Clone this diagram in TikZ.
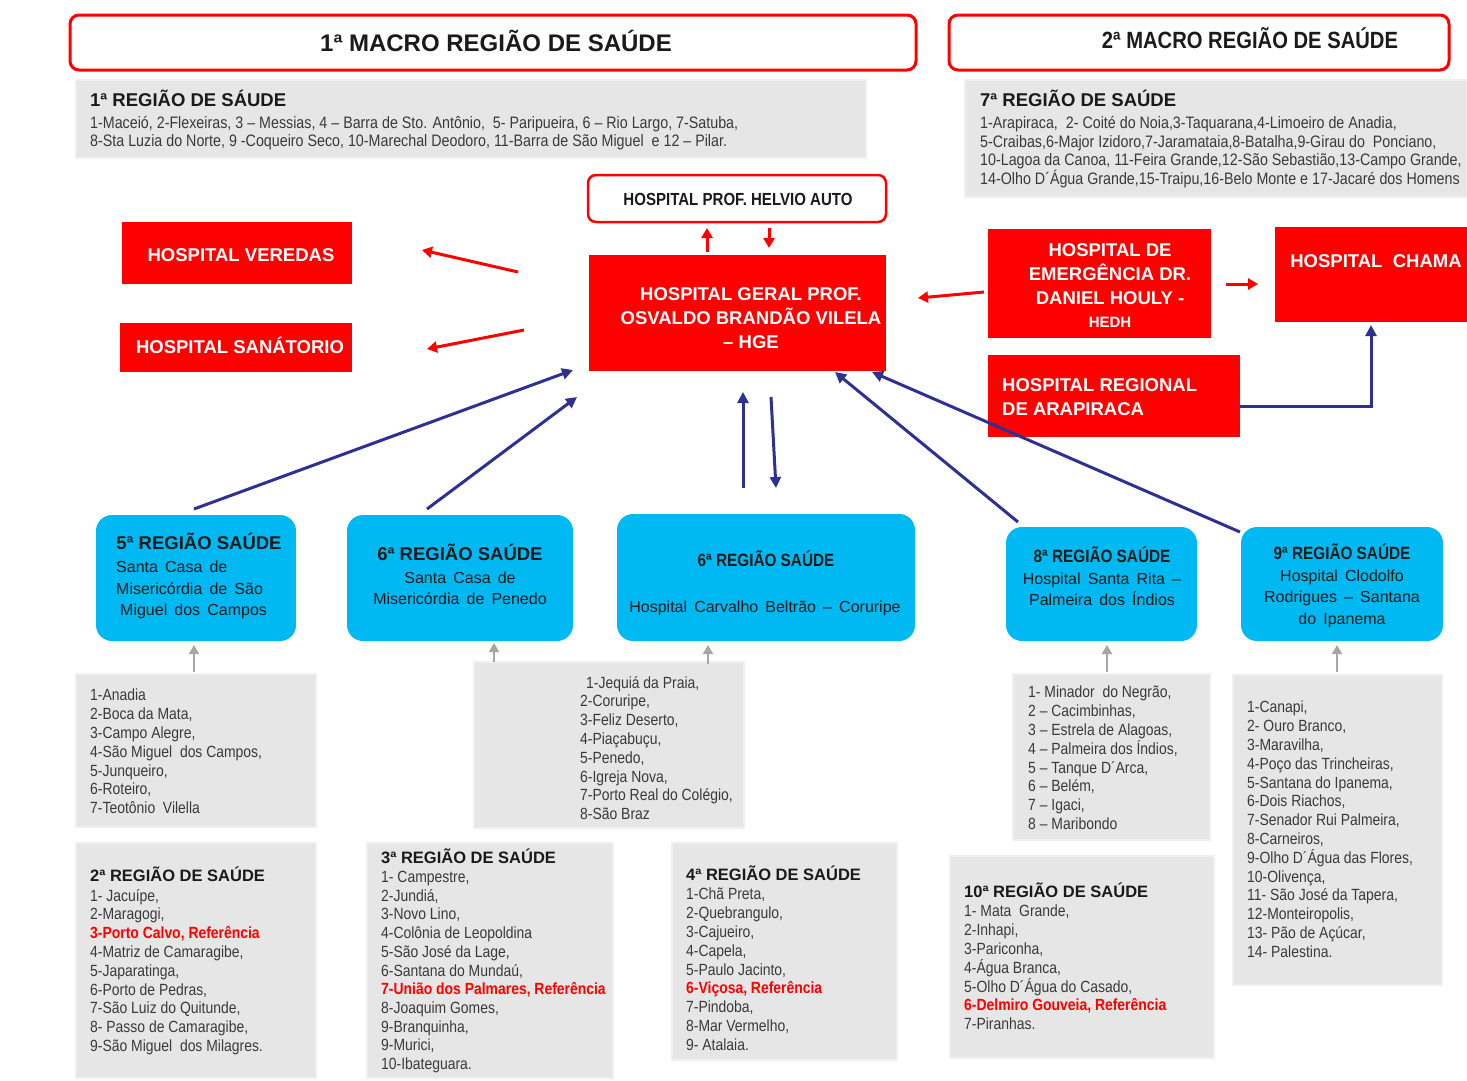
\documentclass[tikz,border=0pt]{standalone}
\usepackage{fontspec}
\setmainfont{Liberation Sans}
\newfontfamily\nar[FakeStretch=0.86]{Liberation Sans}
\newfontfamily\wid[WordSpace=1.6]{Liberation Sans}
\usetikzlibrary{arrows.meta}
\definecolor{hred}{HTML}{FF0000}
\definecolor{hcyan}{HTML}{00B9F2}
\definecolor{hgrey}{HTML}{E6E6E6}
\definecolor{hgreyb}{HTML}{EFEFEF}
\definecolor{hnavy}{HTML}{2E3192}
\definecolor{htxt}{HTML}{3A3A3A}
\definecolor{htitle}{HTML}{1A1A1A}
\definecolor{hgarr}{HTML}{A6A6A6}
\tikzset{
 hdr/.style={draw=hred, line width=3pt, rounded corners=9pt, fill=white, inner sep=0pt},
 redbox/.style={fill=hred, draw=none, inner sep=0pt},
 greybox/.style={fill=hgrey, draw=hgreyb, line width=1.5pt, inner sep=0pt},
 cyanbox/.style={fill=hcyan, draw=none, rounded corners=16pt, inner sep=0pt},
 wtxt/.style={text=white, font=\bfseries\fontsize{18.5}{24}\selectfont, inner sep=0pt, align=center},
 ltxt/.style={text=htxt, font=\nar\fontsize{16.2}{18.8}\selectfont, align=left, inner sep=0pt, anchor=north west, execute at begin node=\strut},
 lttl/.style={text=htitle, font=\bfseries\fontsize{16.5}{20}\selectfont, inner sep=0pt, anchor=base west},
 ctxt/.style={text=htitle, font=\wid\fontsize{16}{21.5}\selectfont, align=center, inner sep=0pt, anchor=north, execute at begin node=\strut},
 cttl/.style={text=htitle, font=\bfseries\fontsize{18.5}{22}\selectfont, inner sep=0pt, anchor=base},
 redarr/.style={draw=hred, line width=3pt, -{Triangle[length=10pt,width=11pt]}},
 bluearr/.style={draw=hnavy, line width=3pt, -{Triangle[length=11pt,width=11pt]}},
 greyarr/.style={draw=hgarr, line width=2.8pt, -{Triangle[length=9pt,width=10pt]}},
}
\newcommand{\refx}[1]{\textcolor{hred}{\bfseries #1}}
\begin{document}
\begin{tikzpicture}[x=1pt,y=-1pt]
\useasboundingbox[fill=white] (0,0) rectangle (1467,1080);

% ---- macro headers
\node[hdr, minimum width=846pt, minimum height=55pt] (mac1) at (493,42.5) {};
\node[text=htitle, font=\bfseries\fontsize{24}{28}\selectfont, inner sep=0pt, anchor=base] (mac1t) at (496,51) {1ª MACRO REGIÃO DE SAÚDE};
\node[hdr, minimum width=500pt, minimum height=55pt] (mac2) at (1199,42.5) {};
\node[text=htitle, font=\nar\bfseries\fontsize{23.5}{28}\selectfont, inner sep=0pt, anchor=base] (mac2t) at (1250,48) {2ª MACRO REGIÃO DE SAÚDE};

% ---- region 1 and 7
\node[greybox, minimum width=790pt, minimum height=78pt] (r1) at (471,119) {};
\node[lttl, font=\bfseries\fontsize{18.5}{20}\selectfont] (r1t) at (90,106.5) {1ª REGIÃO DE SÁUDE};
\node[ltxt, font=\nar\fontsize{16.6}{18}\selectfont] (r1l) at (90,116) {1-Maceió, 2-Flexeiras, 3 – Messias, 4 – Barra de Sto. Antônio, \ 5- Paripueira, 6 – Rio Largo, 7-Satuba,\\8-Sta Luzia do Norte, 9 -Coqueiro Seco, 10-Marechal Deodoro, 11-Barra de São Miguel \ e 12 – Pilar.};

\node[greybox, minimum width=502pt, minimum height=117pt] (r7) at (1216,138.5) {};
\node[lttl, font=\bfseries\fontsize{18.5}{20}\selectfont] (r7t) at (980,106.5) {7ª REGIÃO DE SAÚDE};
\node[ltxt, font=\nar\fontsize{16.6}{18.7}\selectfont] (r7l) at (980,116) {1-Arapiraca, \ 2- Coité do Noia,3-Taquarana,4-Limoeiro de Anadia,\\5-Craibas,6-Major Izidoro,7-Jaramataia,8-Batalha,9-Girau do \ Ponciano,\\10-Lagoa da Canoa, 11-Feira Grande,12-São Sebastião,13-Campo Grande,\\14-Olho D´Água Grande,15-Traipu,16-Belo Monte e 17-Jacaré dos Homens};

% ---- central hospitals
\node[hdr, line width=2.5pt, rounded corners=8pt, minimum width=298pt, minimum height=47pt] (helvio) at (737,198.5) {};
\node[text=htitle, font=\nar\bfseries\fontsize{17.5}{20}\selectfont, inner sep=0pt, anchor=base] (helviot) at (738,205) {HOSPITAL PROF. HELVIO AUTO};

\node[redbox, minimum width=297pt, minimum height=116pt] (hge) at (737.5,313) {};
\node[wtxt, anchor=north, execute at begin node=\strut] (hget) at (751,287) {HOSPITAL GERAL PROF.\\OSVALDO BRANDÃO VILELA\\– HGE};

\node[redbox, minimum width=230pt, minimum height=62pt] (veredas) at (237,253) {};
\node[wtxt, anchor=base] (veredast) at (241,261.7) {HOSPITAL VEREDAS};
\node[redbox, minimum width=232pt, minimum height=49pt] (sanat) at (236,347.5) {};
\node[wtxt, anchor=base] (sanatt) at (240,353.7) {HOSPITAL SANÁTORIO};

\node[redbox, minimum width=223pt, minimum height=109pt] (hedh) at (1099.5,283.5) {};
\node[wtxt, anchor=north, execute at begin node=\strut] (hedht) at (1110,243) {HOSPITAL DE\\EMERGÊNCIA DR.\\DANIEL HOULY -};
\node[wtxt, anchor=base, font=\bfseries\fontsize{15}{18}\selectfont] (hedht2) at (1110,327.5) {HEDH};

\node[redbox, minimum width=192pt, minimum height=95pt] (chama) at (1371,274.5) {};
\node[wtxt, anchor=base] (chamat) at (1376,267.7) {HOSPITAL \ CHAMA};

\node[redbox, minimum width=252pt, minimum height=82pt] (regional) at (1114,396) {};
\node[wtxt, align=left, anchor=north west, execute at begin node=\strut] (regionalt) at (1002,378) {HOSPITAL REGIONAL\\DE ARAPIRACA};

% ---- cyan boxes
\node[cyanbox, minimum width=200pt, minimum height=126pt] (b5) at (196,578) {};
\node[cttl] (b5t) at (199,549.7) {5ª REGIÃO SAÚDE};
\node[ctxt, align=left, anchor=north west] (b5l) at (116,561) {Santa Casa de\\Misericórdia de São\\\hspace*{4pt}Miguel dos Campos};

\node[cyanbox, minimum width=226pt, minimum height=126pt] (b6) at (460,578) {};
\node[cttl] (b6t) at (460,560.7) {6ª REGIÃO SAÚDE};
\node[ctxt] (b6l) at (460,571.5) {Santa Casa de\\Misericórdia de Penedo};

\node[cyanbox, minimum width=298pt, minimum height=127pt] (b6c) at (766,577.5) {};
\node[cttl, font=\nar\bfseries\fontsize{17.8}{22}\selectfont] (b6ct) at (766,566.4) {6ª REGIÃO SAÚDE};
\node[ctxt] (b6cl) at (765,597.5) {Hospital Carvalho Beltrão – Coruripe};

\node[cyanbox, minimum width=191pt, minimum height=114pt] (b8) at (1101.5,584) {};
\node[cttl, font=\nar\bfseries\fontsize{17.8}{22}\selectfont] (b8t) at (1102,562.4) {8ª REGIÃO SAÚDE};
\node[ctxt] (b8l) at (1102,572.5) {Hospital Santa Rita –\\Palmeira dos Índios};

\node[cyanbox, minimum width=202pt, minimum height=114pt] (b9) at (1342,584) {};
\node[cttl, font=\nar\bfseries\fontsize{17.8}{22}\selectfont] (b9t) at (1342,559.4) {9ª REGIÃO SAÚDE};
\node[ctxt] (b9l) at (1342,569.5) {Hospital Clodolfo\\Rodrigues – Santana\\do Ipanema};

% ---- grey lists under cyan boxes
\node[greybox, minimum width=240pt, minimum height=153pt] (l5) at (196,750.5) {};
\node[ltxt] (l5l) at (90,689) {1-Anadia\\2-Boca da Mata,\\3-Campo Alegre,\\4-São Miguel \ dos Campos,\\5-Junqueiro,\\6-Roteiro,\\7-Teotônio \ Vilella};

\node[greybox, minimum width=270pt, minimum height=166pt] (l6) at (609,745) {};
\node[ltxt] (l6l) at (580,676) {\hspace*{6pt}1-Jequiá da Praia,\\2-Coruripe,\\3-Feliz Deserto,\\4-Piaçabuçu,\\5-Penedo,\\6-Igreja Nova,\\7-Porto Real do Colégio,\\8-São Braz};

\node[greybox, minimum width=197pt, minimum height=166pt] (l8) at (1111.5,757) {};
\node[ltxt] (l8l) at (1028,686) {1- Minador \ do Negrão,\\2 – Cacimbinhas,\\3 – Estrela de Alagoas,\\4 – Palmeira dos Índios,\\5 – Tanque D´Arca,\\6 – Belém,\\7 – Igaci,\\8 – Maribondo};

\node[greybox, minimum width=209pt, minimum height=310pt] (l9) at (1337.5,830) {};
\node[ltxt] (l9l) at (1247,701) {1-Canapi,\\2- Ouro Branco,\\3-Maravilha,\\4-Poço das Trincheiras,\\5-Santana do Ipanema,\\6-Dois Riachos,\\7-Senador Rui Palmeira,\\8-Carneiros,\\9-Olho D´Água das Flores,\\10-Olivença,\\11- São José da Tapera,\\12-Monteiropolis,\\13- Pão de Açúcar,\\14- Palestina.};

% ---- bottom regions
\node[greybox, minimum width=240pt, minimum height=235pt] (r2) at (196,960.5) {};
\node[lttl] (r2t) at (90,881) {2ª REGIÃO DE SAÚDE};
\node[ltxt] (r2l) at (90,889) {1- Jacuípe,\\2-Maragogi,\\\refx{3-Porto Calvo, Referência}\\4-Matriz de Camaragibe,\\5-Japaratinga,\\6-Porto de Pedras,\\7-São Luiz do Quitunde,\\8- Passo de Camaragibe,\\9-São Miguel \ dos Milagres.};

\node[greybox, minimum width=246pt, minimum height=235pt] (r3) at (490,960.5) {};
\node[lttl] (r3t) at (381,863) {3ª REGIÃO DE SAÚDE};
\node[ltxt, font=\nar\fontsize{16.2}{18.7}\selectfont] (r3l) at (381,871) {1- Campestre,\\2-Jundiá,\\3-Novo Lino,\\4-Colônia de Leopoldina\\5-São José da Lage,\\6-Santana do Mundaú,\\\refx{7-União dos Palmares, Referência}\\8-Joaquim Gomes,\\9-Branquinha,\\9-Murici,\\10-Ibateguara.};

\node[greybox, minimum width=225pt, minimum height=217pt] (r4) at (784.5,951.5) {};
\node[lttl] (r4t) at (686,880) {4ª REGIÃO DE SAÚDE};
\node[ltxt] (r4l) at (686,888) {1-Chã Preta,\\2-Quebrangulo,\\3-Cajueiro,\\4-Capela,\\5-Paulo Jacinto,\\\refx{6-Viçosa, Referência}\\7-Pindoba,\\8-Mar Vermelho,\\9- Atalaia.};

\node[greybox, minimum width=264pt, minimum height=202pt] (r10) at (1082,957) {};
\node[lttl] (r10t) at (964,897) {10ª REGIÃO DE SAÚDE};
\node[ltxt] (r10l) at (964,905) {1- Mata \ Grande,\\2-Inhapi,\\3-Pariconha,\\4-Água Branca,\\5-Olho D´Água do Casado,\\\refx{6-Delmiro Gouveia, Referência}\\7-Piranhas.};

% ---- free arrow ends
\coordinate (aV1) at (518,272); \coordinate (aV2) at (422,250);
\coordinate (aS1) at (524,330); \coordinate (aS2) at (427,349);
\coordinate (aH1) at (707,252); \coordinate (aH2) at (707,228);
\coordinate (aH3) at (769,228); \coordinate (aH4) at (769,248);
\coordinate (aD1) at (984,292); \coordinate (aD2) at (918,298);
\coordinate (aC1) at (1226,284); \coordinate (aC2) at (1258,284);
\coordinate (aR1) at (1240,406); \coordinate (aR2) at (1371,325);
\coordinate (a51) at (194,509); \coordinate (a52) at (573,370);
\coordinate (a61) at (427,509); \coordinate (a62) at (577,397);
\coordinate (ac1) at (743,488); \coordinate (ac2) at (743,392);
\coordinate (ac3) at (771,397); \coordinate (ac4) at (776,488);
\coordinate (a81) at (1018,522); \coordinate (a82) at (835,372);
\coordinate (a91) at (1240,532); \coordinate (a92) at (872,372);
\coordinate (g51) at (194,672); \coordinate (g52) at (194,645);
\coordinate (g61) at (494,662); \coordinate (g62) at (494,643);
\coordinate (gc1) at (708,664); \coordinate (gc2) at (708,645);
\coordinate (g81) at (1107,672); \coordinate (g82) at (1107,645);
\coordinate (g91) at (1337,672); \coordinate (g92) at (1337,645);

% ---- red arrows
\draw[redarr] (aV1) -- (aV2);
\draw[redarr] (aS1) -- (aS2);
\draw[redarr] (aH1) -- (aH2);
\draw[redarr] (aH3) -- (aH4);
\draw[redarr] (aD1) -- (aD2);
\draw[redarr] (aC1) -- (aC2);

% ---- blue arrows
\draw[bluearr] (aR1) -| (aR2);
\draw[bluearr] (a51) -- (a52);
\draw[bluearr] (a61) -- (a62);
\draw[bluearr] (ac1) -- (ac2);
\draw[bluearr] (ac3) -- (ac4);
\draw[bluearr] (a81) -- (a82);
\draw[bluearr] (a91) -- (a92);

% ---- grey arrows
\draw[greyarr] (g51) -- (g52);
\draw[greyarr] (g61) -- (g62);
\draw[greyarr] (gc1) -- (gc2);
\draw[greyarr] (g81) -- (g82);
\draw[greyarr] (g91) -- (g92);
\end{tikzpicture}
\end{document}
